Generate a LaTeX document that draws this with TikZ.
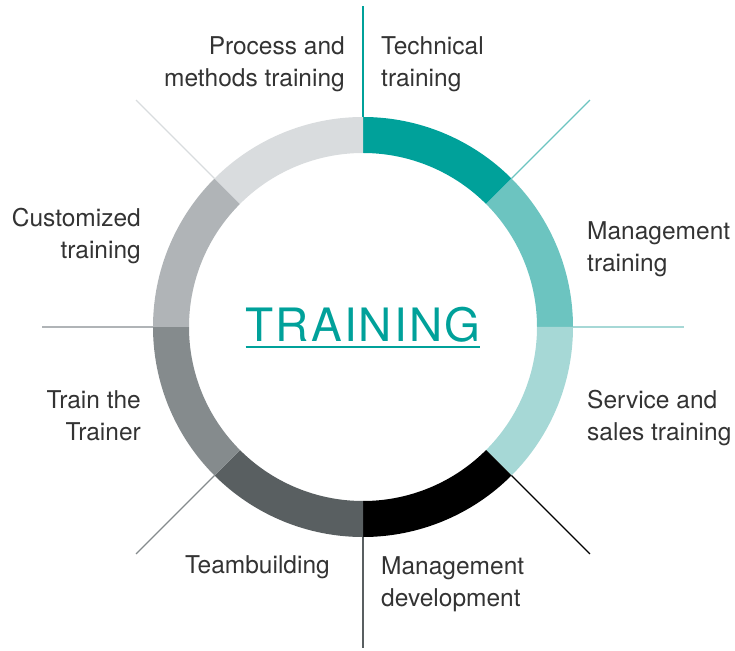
\documentclass[tikz,border=0pt]{standalone}
\usepackage{fontspec}
\setmainfont{TeX Gyre Heros}
\usetikzlibrary{positioning}
\definecolor{techcol}{HTML}{00A19A}
\definecolor{mgmtcol}{HTML}{6CC4C0}
\definecolor{servcol}{HTML}{A6D8D6}
\definecolor{devcol}{HTML}{000000}
\definecolor{teamcol}{HTML}{595F61}
\definecolor{trainercol}{HTML}{858B8D}
\definecolor{customcol}{HTML}{B0B4B7}
\definecolor{processcol}{HTML}{D9DCDE}
\definecolor{txtgray}{HTML}{333333}

\begin{document}
\begin{tikzpicture}[x=1pt,y=1pt,
        every node/.style={inner sep=0pt,text=txtgray,font=\fontsize{24.5}{32}\selectfont},
        lblleft/.style={anchor=base east,align=right},
        lblright/.style={anchor=base west,align=left}]
        \useasboundingbox (-363,-323) rectangle (372,327);
        % ring segments and their spokes, clockwise from the top
        \foreach \a/\c [count=\i] in {90/techcol,45/mgmtcol,0/servcol,-45/devcol,
                -90/teamcol,-135/trainercol,180/customcol,135/processcol}{
            \fill[\c] (\a:210) arc[start angle=\a,end angle=\a-45,radius=210]
                -- (\a-45:174) arc[start angle=\a-45,end angle=\a,radius=174] -- cycle;
            \coordinate (s\i) at (\a:210);
            \coordinate (e\i) at (\a:321);
            \draw[\c,line width=1.3pt] (s\i) -- (e\i);
        }

        % base anchor sits on the last line
        \node[lblright]                 at (18,240)     (tech)    {Technical\\training};
        \node[lblright]                 at (224,55.5)   (mgmt)    {Management\\training};
        \node[lblright]                 at (224,-113.5) (serv)    {Service and\\sales training};
        \node[lblright]                 at (18,-279.5)  (dev)     {Management\\development};
        \node[lblleft]                  at (-33,-246.5) (team)    {Teambuilding};
        \node[lblleft]                  at (-222,-113.5) (trainer) {Train the\\Trainer};
        \node[lblleft]                  at (-222,68.5)  (custom)  {Customized\\training};
        \node[lblleft]                  at (-18,240)    (process) {Process and\\methods training};

        \node[anchor=base,text=techcol,font=\fontsize{46}{46}\selectfont\addfontfeature{LetterSpace=4.5}]
                                        at (0,-15)      (title)   {TRAINING};
        \draw[techcol,line width=2pt] ([yshift=-4pt]title.south west) -- ([yshift=-4pt]title.south east);
\end{tikzpicture}
\end{document}
